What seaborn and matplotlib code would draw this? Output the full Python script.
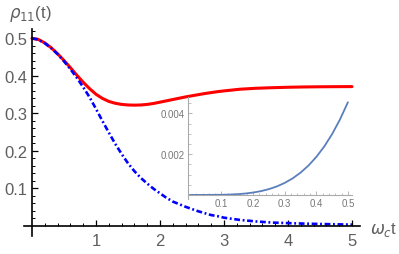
import numpy as np
import pandas as pd
import matplotlib
matplotlib.use("Agg")
import matplotlib.pyplot as plt
from matplotlib.ticker import FixedLocator
import seaborn as sns

# ---- data ----
t_main = [0.0, 0.1, 0.2, 0.3, 0.4, 0.5, 0.6, 0.7, 0.8, 0.9, 1.0, 1.1, 1.2, 1.3, 1.4,
          1.5, 1.6, 1.7, 1.8, 1.9, 2.0, 2.1, 2.2, 2.3, 2.4, 2.5, 2.6, 2.7, 2.8, 2.9,
          3.0, 3.25, 3.5, 3.75, 4.0, 4.25, 4.5, 4.75, 5.0]
rho_red = [0.500, 0.497, 0.488, 0.475, 0.459, 0.441, 0.422, 0.402, 0.383, 0.366,
           0.351, 0.340, 0.332, 0.327, 0.324, 0.3225, 0.322, 0.3225, 0.324, 0.3265,
           0.330, 0.3335, 0.337, 0.3405, 0.344, 0.347, 0.350, 0.353, 0.3555, 0.358,
           0.360, 0.3645, 0.367, 0.3685, 0.3697, 0.3705, 0.371, 0.3713, 0.3715]
rho_blue = [0.500, 0.497, 0.487, 0.474, 0.458, 0.439, 0.418, 0.395, 0.370, 0.343,
            0.312, 0.280, 0.249, 0.219, 0.192, 0.167, 0.146, 0.128, 0.113, 0.099,
            0.087, 0.075, 0.065, 0.058, 0.051, 0.045, 0.039, 0.034, 0.029, 0.026,
            0.022, 0.016, 0.012, 0.009, 0.0075, 0.0062, 0.0052, 0.0043, 0.0035]

t_inset = [0.0, 0.05, 0.1, 0.125, 0.15, 0.175, 0.2, 0.225, 0.25, 0.275, 0.3, 0.325,
           0.35, 0.375, 0.4, 0.425, 0.45, 0.475, 0.5]
diff_inset = [0.0, 0.0000005, 0.0000073, 0.000018, 0.000037, 0.000068, 0.000116,
              0.000186, 0.000284, 0.000415, 0.000588, 0.00081, 0.00109, 0.001436,
              0.00186, 0.00237, 0.00298, 0.0037, 0.00454]

x_major = [1, 2, 3, 4, 5]
y_major = [0.1, 0.2, 0.3, 0.4, 0.5]
inset_x_major = [0.1, 0.2, 0.3, 0.4, 0.5]
inset_y_major = [0.002, 0.004]

df_main = pd.DataFrame({"t": t_main, "red": rho_red, "blue": rho_blue})
df_inset = pd.DataFrame({"t": t_inset, "d": diff_inset})

# ---- style ----
sns.set_theme(style="white")
plt.rcParams["font.family"] = ["Liberation Sans", "DejaVu Sans"]
plt.rcParams["mathtext.fontset"] = "dejavusans"

W, H = 399, 255
fig = plt.figure(figsize=(W / 100, H / 100), dpi=100)

label_col = "#5f5f5f"

# main axes
ax = fig.add_axes([24 / W, 1 - 236.7 / H, (360 - 24) / W, (236.7 - 30) / H])
ax.set_facecolor("none")
sns.lineplot(data=df_main, x="t", y="red", ax=ax, color="#ff0000", lw=2.2,
             sort=False, estimator=None)
sns.lineplot(data=df_main, x="t", y="blue", ax=ax, color="#0000ff", lw=1.9,
             sort=False, estimator=None, linestyle=(0, (2.2, 1.0, 0.7, 1.0)))
ax.set_xlim(-0.125, 5.125)
ax.set_ylim(-0.026, 0.525)
ax.set_xlabel("")
ax.set_ylabel("")
for s in ["top", "right"]:
    ax.spines[s].set_visible(False)
for s in ["left", "bottom"]:
    ax.spines[s].set_position(("data", 0))
    ax.spines[s].set_color("black")
    ax.spines[s].set_linewidth(1.2)

ax.xaxis.set_major_locator(FixedLocator(x_major))
ax.yaxis.set_major_locator(FixedLocator(y_major))
ax.xaxis.set_minor_locator(FixedLocator(np.round(np.arange(0.2, 5.01, 0.2), 3)))
ax.yaxis.set_minor_locator(FixedLocator(np.round(np.arange(0.02, 0.521, 0.02), 3)))
ax.set_xticklabels([str(v) for v in x_major])
ax.set_yticklabels([f"{v:.1f}" for v in y_major])
ax.tick_params(axis="both", which="major", direction="in", length=4.5, width=0.9,
               color="black", labelsize=12, labelcolor=label_col)
ax.tick_params(axis="both", which="minor", direction="in", length=2.5, width=0.7,
               color="black")
ax.tick_params(axis="x", which="major", pad=5, bottom=True)
ax.tick_params(axis="x", which="minor", bottom=True)
ax.tick_params(axis="y", which="major", pad=3.5, left=True)
ax.tick_params(axis="y", which="minor", left=True)

# axis labels
fig.text(30 / W, 1 - 14 / H, r"$\rho_{11}$(t)", ha="center", va="center",
         fontsize=12, color=label_col)
fig.text(397 / W, 1 - 230 / H, r"$\omega_c$t", ha="right", va="center",
         fontsize=12, color=label_col)

# inset
axi = fig.add_axes([188 / W, 1 - 200 / H, (352 - 188) / W, (200 - 98) / H])
axi.set_facecolor("none")
sns.lineplot(data=df_inset, x="t", y="d", ax=axi, color="#5b7fbd", lw=1.3,
             sort=False, estimator=None)
axi.set_xlim(-0.006, 0.513)
axi.set_ylim(-0.0002, 0.0048)
axi.set_xlabel("")
axi.set_ylabel("")
for s in ["top", "right"]:
    axi.spines[s].set_visible(False)
axi.spines["bottom"].set_position(("data", 0))
for s in ["left", "bottom"]:
    axi.spines[s].set_color("#aaaaaa")
    axi.spines[s].set_linewidth(0.8)
axi.xaxis.set_major_locator(FixedLocator(inset_x_major))
axi.yaxis.set_major_locator(FixedLocator(inset_y_major))
axi.xaxis.set_minor_locator(FixedLocator(np.round(np.arange(0.02, 0.511, 0.02), 3)))
axi.yaxis.set_minor_locator(FixedLocator(np.round(np.arange(0.0005, 0.0047, 0.0005), 5)))
axi.set_xticklabels([f"{v:.1f}" for v in inset_x_major])
axi.set_yticklabels([f"{v:.3f}" for v in inset_y_major])
axi.tick_params(axis="both", which="major", direction="in", length=3, width=0.6,
                color="#aaaaaa", labelsize=7, labelcolor="#777777", pad=2.5,
                bottom=True, left=True)
axi.tick_params(axis="both", which="minor", direction="in", length=1.8, width=0.5,
                color="#aaaaaa", bottom=True, left=True)

fig.savefig("out.png", dpi=100)
